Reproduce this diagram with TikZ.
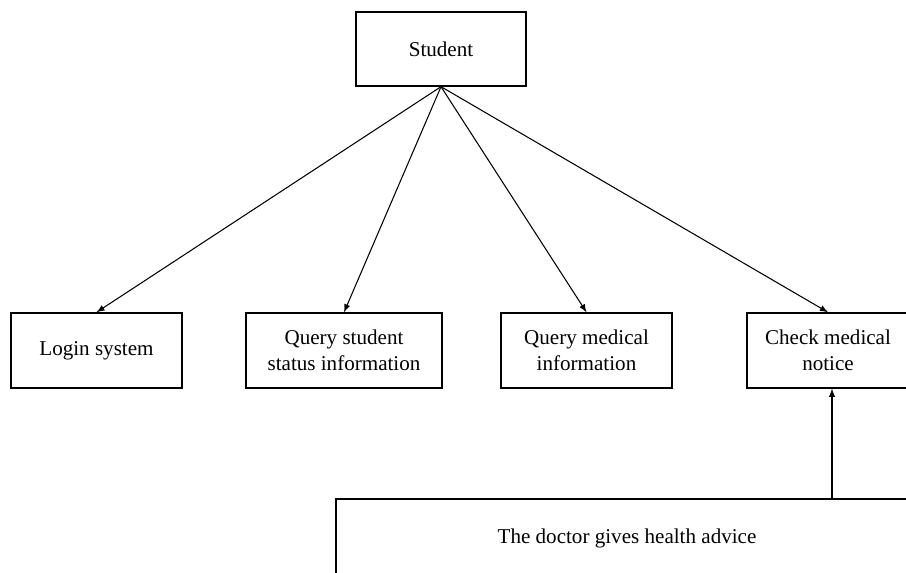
\documentclass[tikz,border=0pt]{standalone}
\usepackage{fontspec}
\setmainfont{Liberation Serif}
\usepackage{tikz}
\usetikzlibrary{arrows}

\begin{document}
\begin{tikzpicture}[x=0.02cm, y=-0.02cm, line width=0.8pt,
        box/.style={draw, align=center, inner sep=0pt, minimum height=1.5cm,
            font=\fontsize{12}{14.8}\selectfont},
        link/.style={-latex, line width=0.6pt}]
        \useasboundingbox (0,0) rectangle (906,573);
        \clip (0,0) rectangle (906,573);

        % top box
        \node[box, minimum width=3.4cm, minimum height=1.48cm] (student) at (441,49) {Student};

        % functions of the student
        \node[box, minimum width=3.42cm] (login) at (96.5,350.5) {Login system};
        \node[box, minimum width=3.92cm] (status) at (344,350.5) {Query student\\status information};
        \node[box, minimum width=3.42cm] (medical) at (586.5,350.5) {Query medical\\information};
        \node[box, minimum width=3.24cm] (notice) at (828,350.5) {Check medical\\notice};

        % doctor (runs off the page)
        \node[box, minimum width=11.64cm, minimum height=1.56cm] (advice) at (627,538) {The doctor gives health advice};
        \coordinate (feed) at (advice.north -| 832,0);

        \draw[link] (student.south) -- (login.north);
        \draw[link] (student.south) -- (status.north);
        \draw[link] (student.south) -- (medical.north);
        \draw[link] (student.south) -- (notice.north);
        \draw[link] (feed) -- (feed |- notice.south);
\end{tikzpicture}
\end{document}
